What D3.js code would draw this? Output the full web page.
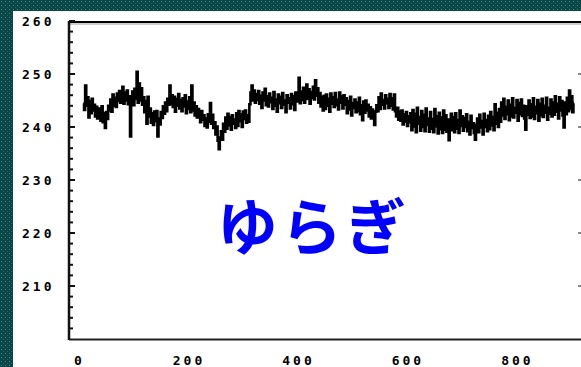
<!DOCTYPE html>
<html>
<head>
<meta charset="utf-8">
<script src="https://cdn.jsdelivr.net/npm/d3@7/dist/d3.min.js"></script>
<style>
  html, body { margin: 0; padding: 0; background: #0d4b4c; }
  svg { display: block; }
</style>
</head>
<body>
<svg id="chart" width="581" height="367"></svg>
<script>
// Sample series: one reading every 2 time units, starting at t = 10
const seriesStart = 10;
const seriesStep = 2;
const seriesValues = [
  244.5, 243.2, 247.8, 244.0, 245.6, 241.8, 244.9, 242.6, 245.3, 243.1,
  244.2, 242.0, 243.8, 241.6, 243.5, 242.9, 241.2, 243.9, 240.9, 242.6,
  239.8, 242.8, 241.5, 244.0, 243.1, 245.2, 242.9, 246.1, 244.0, 245.5,
  243.8, 246.3, 244.9, 246.8, 244.6, 245.9, 247.6, 244.4, 246.5, 245.0,
  246.9, 244.3, 245.8, 238.2, 244.9, 246.7, 244.1, 247.2, 245.3, 250.4,
  244.6, 248.2, 245.0, 247.3, 244.2, 245.6, 242.8, 244.9, 240.6, 245.7,
  242.0, 243.5, 240.8, 242.6, 240.4, 242.9, 241.1, 243.0, 238.2, 241.6,
  240.5, 242.8, 241.7, 243.9, 242.5, 244.6, 243.0, 245.3, 244.2, 247.8,
  244.3, 246.0, 243.8, 245.7, 242.9, 245.3, 244.0, 246.2, 243.5, 245.1,
  243.0, 245.4, 243.9, 246.0, 242.6, 244.8, 243.4, 245.6, 242.8, 247.8,
  243.1, 244.6, 242.2, 243.9, 241.8, 243.4, 242.5, 240.9, 243.0, 241.4,
  242.2, 240.2, 241.6, 239.9, 242.4, 241.0, 244.5, 240.6, 242.3, 239.8,
  240.9, 238.6, 240.1, 237.4, 235.8, 238.0, 239.2, 237.6, 240.6, 239.1,
  241.8, 239.7, 242.5, 240.3, 241.9, 239.5, 242.2, 240.6, 241.4, 239.8,
  242.6, 240.2, 243.0, 241.1, 242.4, 240.0, 242.9, 241.5, 243.1, 240.8,
  242.2, 241.0, 244.3, 246.5, 247.8, 245.0, 246.9, 244.6, 246.2, 245.1,
  246.8, 244.4, 245.9, 243.6, 246.5, 245.0, 247.2, 244.1, 245.8, 243.9,
  246.3, 244.7, 245.5, 243.4, 246.6, 244.0, 245.2, 242.9, 246.1, 244.5,
  245.7, 243.6, 246.4, 244.2, 245.0, 242.8, 246.0, 244.6, 245.4, 243.5,
  246.2, 244.3, 245.8, 243.2, 246.5, 244.8, 245.9, 249.3, 244.5, 246.7,
  245.1, 247.4, 244.6, 246.9, 248.0, 245.3, 247.1, 244.4, 246.6, 245.5,
  247.6, 245.2, 248.8, 245.9, 247.3, 244.6, 246.4, 243.9, 245.7, 243.1,
  245.9, 243.4, 246.1, 244.0, 245.3, 242.9, 246.3, 244.4, 245.6, 243.8,
  246.4, 244.1, 245.2, 243.3, 246.5, 244.6, 245.8, 243.5, 246.0, 244.2,
  245.4, 242.6, 244.9, 243.3, 245.7, 242.2, 244.5, 243.6, 245.2, 242.8,
  244.6, 243.0, 245.5, 242.4, 244.1, 241.3, 244.8, 242.7, 245.0, 243.1,
  244.2, 242.0, 243.7, 241.6, 243.3, 242.5, 240.4, 242.9, 244.1, 243.0,
  245.6, 243.4, 246.3, 244.2, 245.1, 243.5, 246.0, 244.5, 245.3, 243.6,
  246.2, 244.0, 245.4, 243.3, 246.1, 243.0, 242.0, 243.6, 241.4, 242.9,
  241.2, 243.1, 240.5, 242.4, 241.0, 242.8, 240.2, 242.0, 240.9, 242.6,
  239.4, 243.2, 240.1, 242.5, 239.0, 243.6, 240.6, 241.9, 239.3, 243.0,
  240.0, 242.3, 239.2, 243.5, 240.4, 241.6, 239.1, 242.8, 239.7, 241.5,
  239.0, 243.4, 240.1, 242.0, 238.8, 242.7, 239.6, 241.8, 238.9, 243.1,
  239.5, 242.2, 239.1, 241.4, 237.5, 240.6, 242.5, 239.4, 241.9, 239.0,
  242.6, 239.7, 241.3, 238.9, 243.1, 240.2, 242.0, 239.3, 241.7, 240.0,
  242.4, 239.2, 241.0, 238.6, 242.1, 239.8, 240.7, 238.9, 237.6, 240.4,
  241.6, 239.0, 242.3, 239.9, 241.1, 238.6, 242.5, 240.0, 241.3, 239.2,
  242.1, 239.6, 242.8, 240.3, 241.9, 239.4, 244.3, 240.6, 242.7, 240.0,
  243.4, 241.0, 244.6, 242.2, 245.3, 241.5, 243.8, 242.4, 245.0, 241.3,
  244.2, 242.0, 245.4, 241.8, 243.6, 242.7, 245.1, 241.2, 244.5, 242.4,
  245.2, 242.1, 244.0, 241.6, 239.5, 243.9, 242.3, 245.0, 241.7, 244.3,
  242.0, 245.4, 241.5, 243.8, 242.6, 245.1, 241.2, 244.4, 242.2, 245.3,
  241.9, 244.0, 242.7, 245.5, 241.4, 243.6, 242.5, 245.2, 242.0, 244.6,
  242.3, 245.8, 242.9, 244.4, 241.6, 245.6, 243.1, 244.9, 242.2, 239.9,
  244.6, 242.4, 245.5, 243.0, 246.9, 243.4, 245.8, 242.8, 244.5
];

const yTicks = [210, 220, 230, 240, 250, 260];
const yMinorTicks = d3.range(202, 260, 2);
const xTicks = [0, 200, 400, 600, 800];
const xDomain = [-16.5, 922.5];
const yDomain = [200, 260];
const title = "ゆらぎ";

const svg = d3.select("#chart");
const W = 581, H = 367;

// Dotted teal backdrop
const defs = svg.append("defs");
const pat = defs.append("pattern")
  .attr("id", "dots").attr("width", 4).attr("height", 4)
  .attr("patternUnits", "userSpaceOnUse");
pat.append("rect").attr("width", 4).attr("height", 4).attr("fill", "#0b4647");
pat.append("rect").attr("x", 1).attr("y", 1).attr("width", 1).attr("height", 1).attr("fill", "#3d8e8c");
pat.append("rect").attr("x", 3).attr("y", 3).attr("width", 1).attr("height", 1).attr("fill", "#1f6a6a");
svg.append("rect").attr("width", W).attr("height", H).attr("fill", "url(#dots)");

// White panel
svg.append("rect").attr("x", 13).attr("y", 11).attr("width", W - 13).attr("height", H - 11).attr("fill", "#ffffff");

const plot = { left: 69, right: 583, top: 21, bottom: 339 };
const x = d3.scaleLinear().domain(xDomain).range([plot.left, plot.right]);
const y = d3.scaleLinear().domain(yDomain).range([plot.bottom, plot.top]);

// Frame lines
svg.append("line").attr("x1", plot.left).attr("x2", W).attr("y1", 22).attr("y2", 22)
  .attr("stroke", "#000").attr("stroke-width", 2);
svg.append("line").attr("x1", plot.left).attr("x2", W).attr("y1", 24).attr("y2", 24)
  .attr("stroke", "#9a9a9a").attr("stroke-width", 1);
svg.append("line").attr("x1", plot.left).attr("x2", W).attr("y1", 339.5).attr("y2", 339.5)
  .attr("stroke", "#222").attr("stroke-width", 2);

const fontStack = "'DejaVu Sans Mono', 'Liberation Mono', monospace";

// Left axis: inward major and minor ticks
const leftAxis = svg.append("g").attr("transform", `translate(${plot.left},0)`);
leftAxis.append("line").attr("x1", 0).attr("x2", 0).attr("y1", 21).attr("y2", 340)
  .attr("stroke", "#111").attr("stroke-width", 2.5);
leftAxis.selectAll("line.minor").data(yMinorTicks.filter(v => v % 10 !== 0)).join("line")
  .attr("class", "minor")
  .attr("x1", 0).attr("x2", 4).attr("y1", d => y(d)).attr("y2", d => y(d))
  .attr("stroke", "#111").attr("stroke-width", 2);
leftAxis.selectAll("line.major").data(yTicks).join("line")
  .attr("class", "major")
  .attr("x1", 0).attr("x2", 6).attr("y1", d => y(d)).attr("y2", d => y(d))
  .attr("stroke", "#111").attr("stroke-width", 2);

// Right axis ticks (axis line sits just past the edge)
svg.selectAll("line.rtick").data(yTicks.filter(v => v < 260)).join("line")
  .attr("class", "rtick")
  .attr("x1", 578).attr("x2", plot.right).attr("y1", d => y(d)).attr("y2", d => y(d))
  .attr("stroke", "#888").attr("stroke-width", 2);

// Tick labels
svg.selectAll("text.ylab").data(yTicks).join("text")
  .attr("class", "ylab")
  .attr("x", 22).attr("y", d => y(d) + 1)
  .attr("dominant-baseline", "middle")
  .attr("font-family", fontStack).attr("font-weight", "bold").attr("font-size", 13)
  .attr("letter-spacing", 3).attr("fill", "#000")
  .text(d => d);

svg.selectAll("text.xlab").data(xTicks).join("text")
  .attr("class", "xlab")
  .attr("x", d => x(d) + 1.5).attr("y", 365)
  .attr("text-anchor", "middle")
  .attr("font-family", fontStack).attr("font-weight", "bold").attr("font-size", 13)
  .attr("letter-spacing", 3).attr("fill", "#000")
  .text(d => d);

// The series
const pts = seriesValues.map((v, i) => [seriesStart + i * seriesStep, v]);
const line = d3.line().x(d => x(d[0])).y(d => y(d[1])).curve(d3.curveStep);
svg.append("path").datum(pts)
  .attr("d", line)
  .attr("fill", "none").attr("stroke", "#000").attr("stroke-width", 2.6)
  .attr("stroke-linejoin", "miter");

// Title word
svg.append("text")
  .attr("x", 313).attr("y", 223)
  .attr("text-anchor", "middle").attr("dominant-baseline", "central")
  .attr("font-family", "'Noto Sans CJK JP', sans-serif").attr("font-weight", "bold")
  .attr("font-size", 61).attr("letter-spacing", 3).attr("fill", "#0000ff")
  .text(title);
</script>
</body>
</html>
